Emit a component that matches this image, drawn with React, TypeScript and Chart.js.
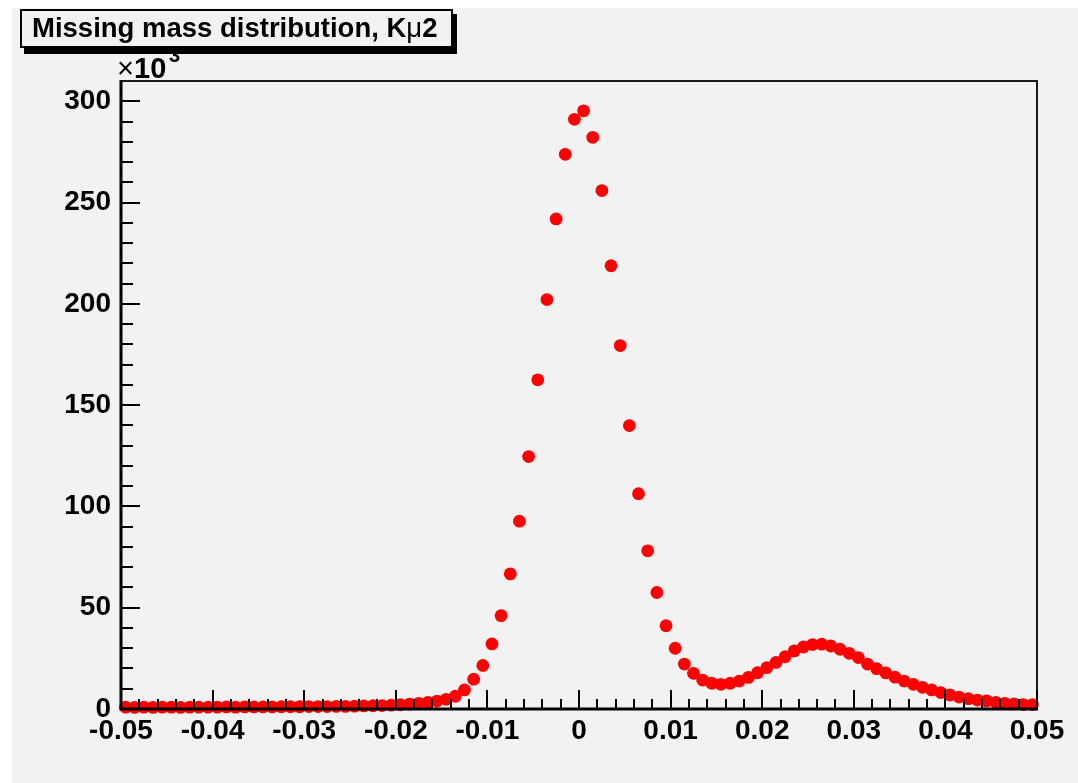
import React, { useEffect, useRef } from "react";
import { Chart, registerables } from "chart.js";

Chart.register(...registerables);

// Histogram definition: 100 bins from -0.05 to 0.05
const BIN_LOW = -0.05;
const BIN_WIDTH = 0.001;

// Counts per bin, in units of 10^3
const COUNTS_K: number[] = [
  0.9, 0.8, 0.9, 0.8, 0.9, 0.9, 0.8, 0.9, 0.9, 0.9,
  0.9, 1.0, 0.9, 1.0, 1.0, 1.0, 1.0, 1.1, 1.1, 1.1,
  1.2, 1.2, 1.2, 1.3, 1.3, 1.4, 1.5, 1.6, 1.7, 1.9,
  2.1, 2.4, 2.8, 3.2, 3.9, 4.8, 6.3, 9.4, 14.7, 21.5,
  32.1, 46.1, 66.7, 92.7, 124.6, 162.5, 202.1, 241.9, 273.8, 291.1,
  295.3, 282.2, 255.9, 218.8, 179.4, 139.9, 106.3, 78.1, 57.5, 41.1,
  30.0, 22.2, 17.6, 14.3, 12.7, 12.2, 12.7, 13.8, 15.6, 17.9,
  20.4, 23.0, 25.8, 28.7, 30.6, 31.8, 32.0, 31.1, 29.5, 27.5,
  25.4, 22.2, 19.9, 17.8, 15.7, 13.8, 12.2, 10.7, 9.4, 8.1,
  6.9, 5.9, 5.1, 4.4, 4.0, 3.3, 2.8, 2.5, 2.2, 2.2,
];

const TITLE_MAIN = "Missing mass distribution, K";
const TITLE_GREEK = "\u03bc";
const TITLE_TAIL = "2";
const X_MIN = -0.05;
const X_MAX = 0.05;
const X_STEP = 0.01;
const Y_MIN = 0;
const Y_MAX = 310;
const Y_STEP = 50;

const FONT = "'Liberation Sans', Arial, Helvetica, sans-serif";

const rootFrame = {
  id: "rootFrame",
  afterDraw(chart: any) {
    const { ctx, chartArea, scales } = chart;
    const { left, right, top, bottom } = chartArea;
    const xs = scales.x;
    const ys = scales.y;
    ctx.save();
    // thin frame top / right
    ctx.strokeStyle = "#1c1c1c";
    ctx.lineWidth = 2;
    ctx.beginPath();
    ctx.moveTo(left, top);
    ctx.lineTo(right, top);
    ctx.lineTo(right, bottom);
    ctx.stroke();
    // x ticks (inside)
    ctx.strokeStyle = "#000";
    ctx.lineWidth = 2;
    for (let k = 0; k <= 50; k++) {
      const v = (k - 25) * 0.002;
      const px = Math.round(xs.getPixelForValue(v));
      const len = k % 5 === 0 ? 19 : 10;
      ctx.beginPath();
      ctx.moveTo(px, bottom);
      ctx.lineTo(px, bottom - len);
      ctx.stroke();
    }
    // y ticks (inside)
    for (let k = 0; k <= 30; k++) {
      const v = k * 10;
      const py = Math.round(ys.getPixelForValue(v));
      const len = k % 5 === 0 ? 19 : 12;
      ctx.beginPath();
      ctx.moveTo(left, py);
      ctx.lineTo(left + len, py);
      ctx.stroke();
    }
    // axes lines
    ctx.lineWidth = 3;
    ctx.beginPath();
    ctx.moveTo(left, top - 1);
    ctx.lineTo(left, bottom);
    ctx.lineTo(right + 1, bottom);
    ctx.stroke();

    // x10^3 label
    ctx.fillStyle = "#000";
    ctx.textBaseline = "alphabetic";
    ctx.textAlign = "left";
    ctx.font = `29px ${FONT}`;
    ctx.fillText("\u00d7", 105, 70);
    ctx.font = `bold 29px ${FONT}`;
    ctx.fillText("10", 122, 70);
    ctx.font = `bold 20px ${FONT}`;
    ctx.fillText("3", 157, 54);

    // Title box with shadow
    const bx = 9, by = 2, bw = 431, bh = 37;
    ctx.fillStyle = "#000";
    ctx.fillRect(bx + 3, by + 4, bw + 2, bh + 3);
    ctx.fillStyle = "#f2f2f2";
    ctx.fillRect(bx, by, bw, bh);
    ctx.strokeStyle = "#000";
    ctx.lineWidth = 2;
    ctx.strokeRect(bx, by, bw, bh);
    ctx.fillStyle = "#000";
    let tx = 20;
    const ty = 29;
    ctx.font = `bold 27.5px ${FONT}`;
    ctx.fillText(TITLE_MAIN, tx, ty);
    tx += ctx.measureText(TITLE_MAIN).width;
    ctx.font = `27.5px ${FONT}`;
    ctx.fillText(TITLE_GREEK, tx, ty);
    tx += ctx.measureText(TITLE_GREEK).width;
    ctx.font = `bold 27.5px ${FONT}`;
    ctx.fillText(TITLE_TAIL, tx, ty);
    ctx.restore();
  },
};

export default function App() {
  const ref = useRef<HTMLCanvasElement | null>(null);
  useEffect(() => {
    if (!ref.current) return;
    const points = COUNTS_K.map((c, i) => ({
      x: BIN_LOW + (i + 0.5) * BIN_WIDTH,
      y: c,
    }));
    const tickFont = { family: FONT, size: 28, weight: "bold" as const };
    const chart = new Chart(ref.current, {
      type: "scatter",
      data: {
        datasets: [
          {
            data: points,
            pointRadius: 6.4,
            pointHoverRadius: 6.4,
            backgroundColor: "#ff0000",
            borderWidth: 0,
            clip: false as any,
          },
        ],
      },
      options: {
        responsive: false,
        animation: false,
        events: [],
        layout: { padding: { left: 0, top: 73, right: 41, bottom: 0 } },
        plugins: { legend: { display: false }, tooltip: { enabled: false }, title: { display: false } },
        scales: {
          x: {
            type: "linear",
            min: X_MIN,
            max: X_MAX,
            grid: { display: false, drawTicks: false },
            border: { display: false },
            ticks: {
              stepSize: X_STEP,
              autoSkip: false,
              maxRotation: 0,
              includeBounds: false,
              padding: 5,
              color: "#000",
              font: tickFont,
              callback: (value: any) => {
                const v = Math.round(Number(value) * 100) / 100;
                return v === 0 ? "0" : v.toFixed(2);
              },
            },
            afterFit: (s: any) => {
              s.height = 74;
            },
          },
          y: {
            type: "linear",
            min: Y_MIN,
            max: Y_MAX,
            grid: { display: false, drawTicks: false },
            border: { display: false },
            ticks: {
              stepSize: Y_STEP,
              includeBounds: false,
              padding: 10,
              color: "#000",
              font: tickFont,
              callback: (value: any) => String(Math.round(Number(value))),
            },
            afterFit: (s: any) => {
              s.width = 109;
            },
          },
        },
      },
      plugins: [rootFrame],
    });
    return () => chart.destroy();
  }, []);

  return (
    <div
      style={{
        position: "fixed",
        left: 12,
        top: 8,
        width: 1066,
        height: 775,
        background: "#f2f2f2",
      }}
    >
      <canvas ref={ref} width={1066} height={775} style={{ display: "block" }} />
    </div>
  );
}
